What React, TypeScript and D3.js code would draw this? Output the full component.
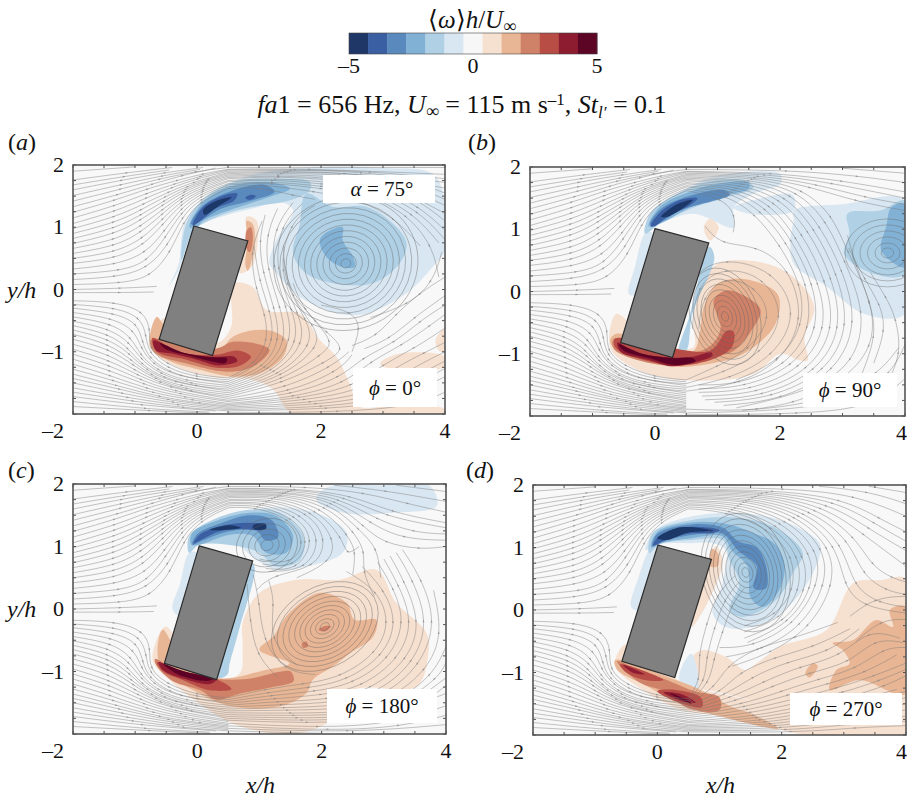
import React from "react";
import * as d3 from "d3";

type Blob = [number, number[]];
type Ring = { c: [number, number]; ratio: number; tilt: number; radii: number[] };

const barColors = ["#1f3767", "#3b5fa3", "#5a8abd", "#82b1d6", "#afd0e5", "#d9e7f2", "#f7f7f7", "#f6e0d0", "#e9b695", "#d08268", "#b84d46", "#8e1c30", "#5c0525"];
const barTicks = [-5, 0, 5];
const xTickVals = [-2, 0, 2, 4];
const yTickVals = [-1, 0, 1, 2];

const upstream: number[][] = [
  [-2,.08,-1.2,.1,-.75,.2,-.42,.6,-.22,1.1,.05,1.42,.5,1.62],
  [-2,.25,-1.2,.3,-.8,.45,-.5,.85,-.25,1.25,.05,1.5,.5,1.68],
  [-2,.42,-1.3,.5,-.85,.72,-.55,1.05,-.25,1.38,.08,1.58,.5,1.73],
  [-2,.58,-1.3,.7,-.9,.92,-.55,1.22,-.25,1.48,.1,1.64,.5,1.78],
  [-2,.74,-1.3,.9,-.9,1.12,-.55,1.36,-.2,1.58,.15,1.72,.5,1.82],
  [-2,.9,-1.3,1.08,-.9,1.28,-.5,1.5,-.15,1.66,.2,1.78,.5,1.86],
  [-2,1.06,-1.3,1.26,-.8,1.48,-.4,1.64,0,1.78,.5,1.9],
  [-2,1.24,-1.3,1.44,-.8,1.62,-.3,1.76,.1,1.86,.5,1.93],
  [-2,1.42,-1.2,1.62,-.6,1.78,0,1.9,.5,1.96],
  [-2,1.6,-1.2,1.76,-.5,1.88,.1,1.96],
  [-2,1.76,-1.1,1.88,-.4,1.96],
  [-2,1.9,-1,1.97],
  [-2,.16,-1.3,.2,-.8,.33,-.46,.72,-.24,1.18,.05,1.46,.5,1.65],
  [-2,.33,-1.3,.4,-.82,.58,-.52,.95,-.25,1.32,.06,1.54,.5,1.7],
  [-2,.5,-1.3,.6,-.87,.82,-.55,1.14,-.25,1.43,.09,1.61,.5,1.75],
  [-2,.66,-1.3,.8,-.9,1.02,-.55,1.29,-.22,1.53,.12,1.68,.5,1.8],
  [-2,.82,-1.3,.99,-.9,1.2,-.52,1.43,-.18,1.62,.17,1.75,.5,1.84],
  [-2,.98,-1.3,1.17,-.85,1.38,-.45,1.57,-.08,1.72,.5,1.88],
  [-2,1.15,-1.3,1.35,-.8,1.55,-.35,1.7,.05,1.82,.5,1.92],
  [-2,1.33,-1.25,1.53,-.7,1.7,-.25,1.83,.3,1.95],
  [-2,1.51,-1.2,1.69,-.55,1.83,.05,1.93],
  [-2,1.68,-1.15,1.82,-.45,1.92],
  [-2,-.05,-1.2,-.05,-.7,-.04],
  [-2,0,-1.2,.02,-.65,.05],
  [-2,-.18,-1.3,-.2,-.85,-.35,-.75,-.65,-.78,-.95,-.5,-1.2,0,-1.38,.5,-1.42],
  [-2,-.3,-1.3,-.38,-.95,-.55,-.88,-.85,-.78,-1.1,-.45,-1.33,0,-1.45,.5,-1.48],
  [-2,-.44,-1.35,-.55,-1.05,-.78,-.92,-1.05,-.65,-1.3,-.2,-1.47,.5,-1.54],
  [-2,-.58,-1.4,-.72,-1.1,-.95,-.9,-1.2,-.55,-1.42,0,-1.56,.5,-1.6],
  [-2,-.72,-1.4,-.88,-1.05,-1.14,-.75,-1.38,-.3,-1.55,.5,-1.66],
  [-2,-.88,-1.4,-1.05,-1,-1.3,-.6,-1.5,-.1,-1.64,.5,-1.72],
  [-2,-1.04,-1.4,-1.22,-.9,-1.46,-.4,-1.63,.5,-1.78],
  [-2,-1.2,-1.4,-1.38,-.8,-1.6,-.2,-1.73,.5,-1.83],
  [-2,-1.36,-1.3,-1.54,-.6,-1.73,.1,-1.83,.5,-1.87],
  [-2,-1.5,-1.2,-1.67,-.4,-1.82,.5,-1.91],
  [-2,-1.65,-1,-1.8,-.2,-1.9,.5,-1.95],
  [-2,-1.8,-.8,-1.92,.2,-1.97],
  [-2,-.24,-1.3,-.29,-.9,-.45,-.82,-.75,-.78,-1.02,-.48,-1.27,0,-1.41,.5,-1.45],
  [-2,-.37,-1.35,-.46,-1,-.66,-.9,-.95,-.72,-1.2,-.32,-1.4,.5,-1.51],
  [-2,-.51,-1.4,-.63,-1.08,-.86,-.91,-1.12,-.6,-1.36,-.1,-1.52,.5,-1.57],
  [-2,-.65,-1.4,-.8,-1.08,-1.04,-.82,-1.3,-.42,-1.49,.5,-1.63],
  [-2,-.8,-1.4,-.96,-1.02,-1.22,-.68,-1.44,-.2,-1.6,.5,-1.69],
  [-2,-.96,-1.4,-1.14,-.95,-1.38,-.5,-1.57,.5,-1.75],
  [-2,-1.12,-1.4,-1.3,-.85,-1.53,-.3,-1.68,.5,-1.8],
  [-2,-1.28,-1.35,-1.46,-.7,-1.67,-.05,-1.78,.5,-1.85],
  [-2,-1.43,-1.25,-1.6,-.5,-1.78,.5,-1.89],
  [-2,-1.58,-1.1,-1.74,-.3,-1.86,.5,-1.93],
  [-2,-1.72,-.9,-1.86,.3,-1.95],
  [-2,-1.88,-.7,-1.95,.2,-1.99],
];

const wakeA: number[][] = [
  [.5,1.62,1,1.65,1.6,1.5,1.9,1.45],
  [.5,1.68,1.2,1.72,2,1.62,2.8,1.52,3.4,1.2,3.8,.7,3.9,.2],
  [.5,1.73,1.2,1.77,2,1.7,2.9,1.6,3.6,1.25,4,.8],
  [.5,1.78,1.3,1.82,2.2,1.76,3,1.67,3.6,1.42,4,1.1],
  [.5,1.82,1.3,1.85,2.2,1.82,3.2,1.72,4,1.35],
  [.5,1.86,1.4,1.89,2.4,1.87,3.3,1.8,4,1.55],
  [.5,1.9,1.5,1.92,2.6,1.9,4,1.72],
  [.5,1.93,1.6,1.95,4,1.85],
  [.5,1.96,4,1.96],
  [.5,1.65,1.1,1.69,1.9,1.57,2.6,1.45,3.2,1.15,3.6,.7],
  [.5,1.7,1.2,1.74,2,1.66,2.85,1.56,3.5,1.22,3.9,.75],
  [.5,1.75,1.25,1.79,2.1,1.73,2.95,1.63,3.6,1.33,4,.95],
  [.5,1.8,1.3,1.83,2.2,1.79,3.1,1.7,4,1.22],
  [.5,1.84,1.35,1.87,2.3,1.85,3.25,1.76,4,1.45],
  [.5,1.88,1.45,1.9,2.5,1.88,4,1.63],
  [.5,1.92,1.55,1.93,2.8,1.9,4,1.78],
  [.5,-1.42,.95,-1.2,1.15,-.8,1.1,-.4,.95,0,.85,.6,1.05,1.1],
  [.5,-1.48,1.1,-1.25,1.35,-.8,1.25,-.3,1.05,.3,1,.8,1.1,1.2],
  [.5,-1.54,1.2,-1.3,1.55,-.8,1.45,-.3,1.2,.4,1.25,1,1.55,1.4],
  [.5,-1.6,1.3,-1.35,1.75,-.85,1.65,-.4,1.3,.3,1.5,1.1,1.9,1.35],
  [.5,-1.66,1.4,-1.4,2,-.9,1.9,-.6,1.5,-.1,1.4,.5],
  [.5,-1.72,1.4,-1.5,2.1,-1.15,2.4,-.95,2.1,-.7,1.7,-.3,1.55,.1],
  [.5,-1.78,1.5,-1.65,2.3,-1.3,2.5,-1.05],
  [.5,-1.83,1.6,-1.73,2.4,-1.5,2.8,-1.15,3.3,-.9,3.8,-.55,4,-.4],
  [.5,-1.87,1.8,-1.78,2.7,-1.6,3.2,-1.25,3.7,-1,4,-.85],
  [.5,-1.91,2,-1.85,3,-1.7,3.6,-1.35,4,-1.15],
  [.5,-1.95,2.2,-1.92,3.2,-1.8,4,-1.4],
  [.5,-1.98,2.4,-1.97,3.5,-1.87,4,-1.65],
  [.5,-1.45,1,-1.22,1.25,-.8,1.18,-.35,1,.15,.92,.7],
  [.5,-1.51,1.15,-1.28,1.45,-.8,1.35,-.3,1.12,.35,1.12,.9,1.3,1.3],
  [.5,-1.57,1.25,-1.33,1.65,-.82,1.55,-.35,1.25,.35,1.35,1.05,1.7,1.38],
  [.5,-1.63,1.35,-1.38,1.88,-.87,1.78,-.5,1.4,.1,1.4,.7],
  [.5,-1.69,1.4,-1.45,2.05,-1.02,2.2,-.85,1.9,-.5,1.6,-.15],
  [.5,-1.75,1.45,-1.58,2.2,-1.22,2.45,-1],
  [.5,-1.8,1.55,-1.69,2.35,-1.4,2.65,-1.1,3.2,-.85,3.6,-.5,4,-.25],
  [.5,-1.85,1.7,-1.75,2.55,-1.55,3,-1.2,3.5,-.95,4,-.62],
  [.5,-1.89,1.9,-1.82,2.85,-1.65,3.4,-1.3,4,-1],
  [.5,-1.93,2.1,-1.89,3.1,-1.75,3.8,-1.37,4,-1.27],
  [2.5,-.9,2.9,-.75,3.2,-.4,3.6,-.05,4,.2],
  [2.7,-.95,3.1,-.8,3.5,-.45,4,-.1],
  [2.5,-1,2.65,-.6,2.5,-.35,2,-.25],
  [3.95,.6,3.8,.1,3.4,-.25,2.8,-.45],
];
const wakeB: number[][] = [
  [.5,1.62,1.1,1.5,1.3,1.2,1.25,.95],
  [.5,1.68,1.2,1.6,1.7,1.3,2.1,.8,2.45,.1,2.5,-.6,2.1,-1.2,1.3,-1.5,.7,-1.5],
  [.5,1.73,1.3,1.66,1.85,1.4,2.25,.9,2.65,.1,2.75,-.6,2.35,-1.25,1.5,-1.6,.7,-1.62],
  [.5,1.78,1.4,1.72,2,1.5,2.45,1,2.85,.2,3,-.6,2.6,-1.3,1.7,-1.7,.8,-1.74],
  [.5,1.82,1.5,1.78,2.2,1.58,2.65,1.05,3,.35,3.25,-.5,2.9,-1.3,2,-1.75,1.1,-1.83],
  [.5,1.86,1.6,1.83,2.4,1.65,2.85,1.2,3.05,.7,3.5,-.2,3.5,-.9,3,-1.45,2.2,-1.82,1.4,-1.91],
  [.5,1.9,1.7,1.87,2.6,1.72,3.4,1.5,4,1.4],
  [.5,1.93,1.9,1.91,3,1.78,4,1.6],
  [.5,1.96,2.2,1.95,3.3,1.85,4,1.75],
  [3,1.98,4,1.9],
  [.5,1.65,1.15,1.55,1.6,1.25,2,.75,2.35,.1,2.38,-.55,2,-1.12,1.3,-1.42],
  [.5,1.7,1.25,1.63,1.78,1.35,2.18,.85,2.55,.1,2.62,-.6,2.22,-1.22,1.4,-1.55,.7,-1.56],
  [.5,1.75,1.35,1.69,1.92,1.45,2.35,.95,2.75,.15,2.88,-.6,2.48,-1.28,1.6,-1.65,.75,-1.68],
  [.5,1.8,1.45,1.75,2.1,1.54,2.55,1.02,2.92,.28,3.12,-.55,2.75,-1.3,1.85,-1.72,.95,-1.78],
  [.5,1.84,1.55,1.8,2.3,1.62,2.75,1.12,3.02,.52,3.38,-.35,3.2,-1.15,2.5,-1.6,1.3,-1.87],
  [.5,1.88,1.65,1.85,2.5,1.68,3.2,1.45,4,1.3],
  [.5,1.92,1.8,1.89,2.8,1.75,4,1.5],
  [.5,-1.42,1,-1.2,1.5,-.95,1.9,-.4,1.6,.1,1.1,.25,.75,-.1,.7,-.6],
  [.5,-1.48,1.1,-1.3,1.7,-1,2.1,-.4,1.75,.25,1.1,.4,.65,.1,.6,-.6],
  [.5,-1.54,1.2,-1.4,1.9,-1.05,2.3,-.35,1.9,.35,1.1,.55,.6,.3,.45,-.4],
  [.5,-1.6,1.3,-1.5,2,-1.15,2.4,-.45,2.15,.4,1.6,.75,1.05,.75,.8,1.05],
  [.5,-1.95,2,-1.92,3.2,-1.75,3.8,-1.3,4,-.85],
  [.5,-1.98,2.4,-1.97,3.5,-1.85,4,-1.4],
  [.5,-1.89,1.6,-1.93,2.9,-1.72,3.6,-1.3,3.9,-.9],
  [3.5,-1.15,3.7,-.6,3.6,-.2,3.35,.2,3.1,.7],
  [3.7,-1.5,3.95,-1,3.85,-.4,3.7,-.1,3.45,.3],
  [3.3,-1.35,3.55,-.7,3.45,-.2,3.2,.45,3.08,.9],
];
const wakeC: number[][] = [
  [.5,1.62,.9,1.64,1.5,1.45,1.75,1.05,1.5,.7,1,.8],
  [.5,1.68,1,1.7,1.6,1.5,1.9,1.1,1.6,.6,1.1,.65],
  [.5,1.73,1.1,1.75,1.8,1.55,2.1,1.1,1.9,.65,1.2,.55,.95,.3],
  [.5,1.78,1.2,1.8,1.95,1.6,2.35,1.1,2.4,.85,2.6,1],
  [.5,1.82,1.3,1.84,2.1,1.66,2.55,1.2,2.7,.9,2.65,.6,2.85,.2],
  [.5,1.86,1.4,1.87,2.2,1.73,2.7,1.3,3,1.05,3.6,.95,4,1],
  [.5,1.9,1.5,1.9,2.3,1.78,2.9,1.42,3.5,1.22,4,1.2],
  [.5,1.93,1.6,1.93,2.5,1.82,3.1,1.55,4,1.38],
  [.5,1.96,1.8,1.96,2.7,1.86,3.4,1.68,4,1.55],
  [2.2,1.98,3,1.9,4,1.72],
  [3.2,1.98,4,1.88],
  [.5,1.65,.95,1.67,1.55,1.47,1.82,1.07,1.55,.65,1.05,.72],
  [.5,1.7,1.05,1.72,1.7,1.52,2,1.1,1.75,.62,1.15,.6],
  [.5,1.75,1.15,1.77,1.88,1.57,2.22,1.1,2.15,.75,1.6,.5],
  [.5,1.8,1.25,1.82,2.02,1.63,2.45,1.15,2.55,.9,2.5,.55],
  [.5,1.84,1.35,1.85,2.15,1.7,2.62,1.25,2.9,.98,2.95,.5],
  [.5,1.88,1.45,1.88,2.25,1.75,2.8,1.36,3.3,1.12,4,1.1],
  [.5,1.92,1.55,1.92,2.4,1.8,3,1.48,4,1.3],
  [.5,-1.42,1.1,-1.28,1.7,-1.2,2.3,-1.1,2.9,-.7,3.1,-.2,2.9,.3,2.4,.6],
  [.5,-1.48,1.2,-1.38,1.9,-1.32,2.5,-1.2,3.1,-.8,3.35,-.2,3.15,.35,2.9,.75],
  [.5,-1.54,1.3,-1.48,2.1,-1.45,2.8,-1.3,3.4,-.8,3.6,-.2,3.3,.5,3.1,.85],
  [.5,-1.6,1.4,-1.58,2.3,-1.55,3,-1.4,3.6,-.9,3.85,-.2,3.6,.5,3.3,.95],
  [.5,-1.66,1.5,-1.67,2.5,-1.65,3.2,-1.5,3.8,-1.05,4,-.6],
  [.5,-1.72,1.6,-1.75,2.7,-1.72,3.4,-1.55,4,-1.1],
  [.5,-1.78,1.8,-1.83,2.9,-1.78,4,-1.35],
  [.5,-1.83,2,-1.9,3.1,-1.84,4,-1.55],
  [.5,-1.87,2.2,-1.95,3.3,-1.88,4,-1.7],
  [.5,-1.91,2.5,-1.98,4,-1.85],
  [.5,-1.95,2,-1.99],
  [.5,-1.45,1.15,-1.33,1.8,-1.26,2.4,-1.15,3,-.75,3.22,-.2,3,.32,2.65,.68],
  [.5,-1.51,1.25,-1.43,2,-1.38,2.65,-1.25,3.25,-.8,3.48,-.2,3.22,.42,3,.8],
  [.5,-1.57,1.35,-1.53,2.2,-1.5,2.9,-1.35,3.5,-.85,3.72,-.2,3.45,.5,3.2,.9],
  [.5,-1.63,1.45,-1.62,2.4,-1.6,3.1,-1.45,3.7,-.98,3.95,-.4,3.8,.3],
  [.5,-1.69,1.55,-1.71,2.6,-1.68,3.3,-1.52,3.9,-1.08,4,-.85],
  [.5,-1.75,1.7,-1.79,2.8,-1.75,3.6,-1.55,4,-1.22],
  [.9,.55,1,.1,1.05,-.5,1.4,-1,1.9,-1.05],
  [.8,.4,.85,-.2,.95,-.75,1.3,-1.1],
  [1.15,.45,1.25,.1,1.15,-.5,1.6,-.9],
];
const wakeD: number[][] = [
  [.5,1.62,1.1,1.58,1.8,1.3,2.2,.85,2.2,.3,1.9,-.1,1.4,-.25],
  [.5,1.68,1.2,1.64,1.95,1.38,2.4,.85,2.4,.3,2.05,-.2,1.4,-.45],
  [.5,1.73,1.3,1.7,2.1,1.45,2.6,.95,2.6,.4,2.2,-.25,1.5,-.6,1,-.6],
  [.5,1.78,1.4,1.76,2.25,1.52,2.8,1,2.85,.4,2.45,-.3,1.8,-.7,1.2,-.9],
  [.5,1.82,1.5,1.8,2.4,1.58,3,1.05,3.15,.35,3.6,.1,4,.05],
  [.5,1.86,1.6,1.85,2.6,1.63,3.2,1.15,3.45,.7,3.8,.5,4,.45],
  [.5,1.9,1.7,1.89,2.8,1.7,3.4,1.3,4,.95],
  [.5,1.93,1.9,1.92,3,1.78,3.6,1.45,4,1.25],
  [.5,1.96,2.1,1.95,3.2,1.84,4,1.5],
  [2.6,1.98,3.4,1.9,4,1.7],
  [3.4,1.98,4,1.88],
  [.5,1.65,1.15,1.61,1.88,1.34,2.3,.85,2.3,.3,1.98,-.15,1.4,-.35],
  [.5,1.7,1.25,1.67,2.02,1.42,2.5,.9,2.5,.35,2.12,-.22,1.45,-.52],
  [.5,1.75,1.35,1.73,2.18,1.48,2.7,.98,2.72,.4,2.32,-.28,1.65,-.65,1.1,-.75],
  [.5,1.8,1.45,1.78,2.32,1.55,2.9,1.02,3,.38,3.3,.05,4,-.05],
  [.5,1.84,1.55,1.83,2.5,1.6,3.1,1.1,3.3,.55,3.7,.3,4,.25],
  [.5,1.88,1.65,1.87,2.7,1.66,3.3,1.22,4,.7],
  [.5,1.92,1.8,1.9,2.9,1.74,3.5,1.38,4,1.1],
  [.5,-1.42,.7,-1.1,.65,-.75,.8,-.2,.95,.25,1.25,.55],
  [.5,-1.48,.85,-1.15,.9,-.8,1.05,-.35,1.2,.1,1.4,.35],
  [.5,-1.54,1.05,-1.3,1.3,-1,1.9,-.75,2.5,-.6,3.1,-.3],
  [.5,-1.6,1.2,-1.4,1.7,-1.15,2.3,-.9,2.95,-.75,3.4,-.3,3.9,-.45],
  [.5,-1.66,1.4,-1.5,2,-1.3,2.6,-1.1,3.2,-.95,3.65,-.6,4,-.6],
  [.5,-1.72,1.5,-1.6,2.2,-1.42,2.9,-1.25,3.5,-1.05,4,-.85],
  [.5,-1.78,1.6,-1.7,2.4,-1.52,3.1,-1.4,3.7,-1.2,4,-1.05],
  [.5,-1.83,1.7,-1.78,2.6,-1.6,3.3,-1.5,4,-1.3],
  [.5,-1.87,1.9,-1.84,2.8,-1.68,3.5,-1.6,4,-1.5],
  [.5,-1.91,2.1,-1.9,3,-1.76,4,-1.7],
  [.5,-1.95,2.3,-1.96,3.2,-1.88,4,-1.85],
  [.5,-1.45,.78,-1.12,.78,-.78,.92,-.28,1.08,.18,1.32,.45],
  [.5,-1.51,.95,-1.22,1.1,-.9,1.6,-.6,2.2,-.45,2.9,-.2],
  [.5,-1.57,1.12,-1.35,1.5,-1.08,2.1,-.82,2.75,-.68,3.25,-.3],
  [.5,-1.63,1.3,-1.45,1.85,-1.22,2.45,-1,3.1,-.85,3.5,-.45,3.95,-.52],
  [.5,-1.69,1.45,-1.55,2.1,-1.36,2.75,-1.18,3.35,-1,3.85,-.72],
  [.5,-1.75,1.55,-1.65,2.3,-1.47,3,-1.32,3.6,-1.12,4,-.95],
  [.5,-1.8,1.65,-1.74,2.5,-1.56,3.2,-1.45,3.85,-1.27],
  [.5,-1.85,1.8,-1.81,2.7,-1.64,3.4,-1.55,4,-1.4],
  [.5,-1.89,2,-1.87,2.9,-1.72,4,-1.6],
  [.5,-1.93,2.2,-1.93,3.1,-1.82,4,-1.78],
  [3.1,-.1,3.5,.2,4,.22],
  [3.2,-.5,3.6,-.15,4,-.15],
];

const ringsA: Ring[] = [{ c: [2.4, .42], ratio: .92, tilt: -15, radii: [.08,.17,.27,.37,.47,.57,.67,.77,.87,.97,1.07,1.17] }];
const ringsB: Ring[] = [
  { c: [1.12, -.4], ratio: .68, tilt: 70, radii: [.08,.17,.26,.35,.44,.53,.62,.71,.8] },
  { c: [3.72, .62], ratio: .8, tilt: 0, radii: [.1,.2,.32,.44,.56,.68] },
];
const ringsC: Ring[] = [
  { c: [1.12, 1.02], ratio: .85, tilt: -20, radii: [.1,.2,.3,.4,.5] },
  { c: [2.05, -.28], ratio: .7, tilt: -30, radii: [.08,.16,.25,.34,.43,.52,.62,.72,.82,.92] },
];
const ringsD: Ring[] = [{ c: [1.42, .6], ratio: .72, tilt: 75, radii: [.08,.16,.25,.34,.43,.52,.61,.7,.79,.88,.97] }];

const blobsA: Blob[] = [
  [-1,[1.12,1.89,2,1.97,3,1.95,3.8,1.86,4,1.4,4,.63,3.8,.36,3.38,-.06,2.73,-.39,2.3,-.39,1.66,-.12,1.28,.26,1.17,.42,1.28,.79,1.55,1.27,1.35,1.4,.9,1.3,.5,1.2,.1,1.06,-.06,.95,-.3,.3,-.45,.05,-.3,.4,-.2,1.06,.15,1.5,.69,1.78]],
  [1,[.58,.1,.9,.04,1.12,-.33,1.66,-.39,1.98,-.81,2.25,-1.08,2.46,-1.51,2.62,-1.88,3.2,-1.85,4,-1.92,4,-2,1.55,-2,1.23,-1.61,.9,-1.45,.26,-1.4,-.3,-1.25,-.71,-.97,-.65,-.55,-.45,-.45,0,-.8,.35,-.85,.55,-.6,.55,-.1]],
  [1,[4,-.63,3.85,-.8,3.9,-.98,4,-1]],
  [1,[2.95,-1.19,3.27,-1.03,4,-1.08,4,-1.24,3.1,-1.27]],
  [1,[.8,1.17,.96,1.11,.98,.79,.88,.36,.69,.26,.8,.79]],
  [2,[.15,-1.27,.58,-.76,1.12,-.65,1.44,-.81,1.39,-1.08,1.01,-1.35,.58,-1.4,.04,-1.29,-.49,-1.13,-.76,-.92,-.65,-.44,-.55,-.55]],
  [2,[.8,1.1,.9,1.05,.93,.75,.82,.3,.78,.4,.82,.8]],
  [3,[.3,-.95,.58,-.84,.96,-.87,1.17,-.97,.9,-1.24,.47,-1.32,-.17,-1.19,-.66,-1.03,-.74,-.81]],
  [3,[.8,.95,.87,1,.9,.8,.85,.6,.8,.65]],
  [4,[-.72,-.78,-.3,-1,.3,-1.05,.65,-.98,.87,-1.08,.7,-1.22,.35,-1.26,-.2,-1.12,-.65,-1]],
  [5,[-.7,-.82,-.3,-1,.25,-1.08,.6,-1.08,.65,-1.15,.35,-1.22,0,-1.13,-.4,-1.03,-.66,-.98]],
  [6,[-.6,-.86,-.2,-1.02,.25,-1.09,.48,-1.1,.46,-1.18,.2,-1.15,-.1,-1.07,-.5,-.96]],
  [-2,[1.76,1.54,2.19,1.33,2.73,1.33,3.16,1.06,3.38,.74,3.27,.42,2.84,.1,2.19,.1,1.76,.26,1.55,.58,1.66,1.06]],
  [-3,[1.98,.79,2.11,.93,2.35,1,2.35,.79,2.52,.52,2.54,.36,2.35,.36,2.09,.52]],
  [-2,[-.25,.47,-.17,1.06,.15,1.49,.69,1.75,1.28,1.78,1.82,1.73,1.82,1.59,1.49,1.43,.9,1.33,.47,1.22,.1,1.06,-.06,.95]],
  [-3,[-.12,1,.1,1.4,.55,1.66,1.2,1.72,1.5,1.62,1.2,1.5,.6,1.3,.1,1.1,0,1]],
  [-4,[-.1,1.05,.1,1.35,.6,1.6,1.1,1.68,1.25,1.57,.85,1.42,.4,1.3,.05,1.1]],
  [-5,[-.07,1.03,.1,1.33,.45,1.52,.65,1.54,.6,1.43,.3,1.3,.03,1.08]],
  [-6,[.1,1.28,.35,1.44,.56,1.48,.35,1.34,.12,1.2]],
  [-5,[.85,1.52,.95,1.5,.85,1.44,.78,1.47]],
];
const blobsB: Blob[] = [
  [-1,[.83,1.81,2,1.89,2.01,1.73,1.58,1.57,1.26,1.35,1.26,1.03,.62,1.25,.08,1.09,-.1,1,.2,1.4]],
  [-1,[2.22,1.3,3,1.4,4,1.46,4,-.36,3.35,-.36,2.76,.07,2.22,.44,2.17,.87,2.22,1.14]],
  [-1,[1.26,1.35,1.7,1.5,2.2,1.55,2.22,1.3,1.5,1.25]],
  [-1,[-.16,.93,-.32,.4,-.42,-.04,-.3,-.05,-.05,.95]],
  [-2,[3.08,1.25,3.6,1.3,4,1.46,4,.28,3.51,.28,3.03,.6,3.11,.93]],
  [-3,[3.78,1.35,4,1.4,4,.39,3.62,.66,3.7,1.05]],
  [-2,[.87,.72,.95,.55,.6,-.35,.5,-.95,.38,-.98,.55,-.4]],
  [1,[.99,.44,1.69,.47,2.22,.23,2.55,-.25,2.39,-.73,2.44,-1.11,2.3,-1.1,2.01,-1,1.58,-1.32,.88,-1.43,.08,-1.37,-.46,-1.16,-.72,-.89,-.62,-.36,-.3,-.6,.3,-.9,.62,-.89,.62,-.52,.72,.02]],
  [1,[.78,1.03,.88,1.17,1.02,1.03,.88,.82]],
  [2,[.78,-.25,.99,.12,1.42,.2,1.96,-.04,1.93,-.52,1.42,-1,.88,-1.16,.35,-1.21,-.24,-1.11,-.62,-.95,-.72,-.79,-.62,-.68,.29,-.95,.62,-.95,.72,-.63]],
  [3,[.94,-.14,1.15,.02,1.47,-.09,1.69,-.3,1.58,-.57,1.26,-.95,.94,-1.05,.35,-1.19,-.35,-1.08,-.66,-.92,-.66,-.76,.3,-1,.85,-.9,1.05,-.6]],
  [4,[.88,-.95,1.15,-.63,1.26,-.65,1.23,-.89,.94,-1.08,.35,-1.19,-.35,-1.05,-.64,-.89,-.64,-.76]],
  [5,[-.6,-.82,-.3,-.98,.28,-1.06,.6,-1.05,.9,-.98,.92,-1.03,.6,-1.15,.25,-1.2,-.1,-1.1,-.55,-.97]],
  [6,[-.58,-.85,-.2,-1,.28,-1.07,.6,-1.07,.65,-1.12,.3,-1.18,-.1,-1.07,-.5,-.95]],
  [-2,[-.16,.93,-.08,1.25,.35,1.57,.94,1.78,1.47,1.78,1.58,1.67,1.15,1.51,.62,1.35,.08,1.09]],
  [-3,[-.1,1.05,.1,1.38,.55,1.6,.95,1.72,1.5,1.75,1.5,1.65,1.15,1.55,.6,1.37,.1,1.1]],
  [-4,[-.08,1.08,.1,1.33,.6,1.55,1.1,1.63,1.2,1.56,.8,1.42,.4,1.3,.1,1.12]],
  [-5,[-.07,1.05,.08,1.27,.4,1.47,.68,1.5,.55,1.38,.2,1.2,0,1.05]],
  [-6,[.1,1.2,.35,1.4,.6,1.47,.45,1.34,.2,1.2]],
];
const blobsC: Blob[] = [
  [-1,[1.91,1.75,2.08,1.94,3,1.98,3.74,1.97,3.85,1.65,3.15,1.54,2.34,1.54]],
  [-1,[.57,1.49,1.11,1.62,1.91,1.54,2.4,1.22,2.34,.9,1.75,.68,1.27,.63,.95,.79,.57,1.06,.03,1.06,-.1,1.1,.1,1.35]],
  [-1,[-.13,.9,-.28,.4,-.4,0,-.3,-.1,0,.9]],
  [-2,[.84,.75,.92,.68,.68,-.3,.52,-.87,.48,-1.05,.33,-1.1,.5,-.4]],
  [-2,[-.13,.9,-.13,1.17,.25,1.43,.84,1.59,1.32,1.54,1.7,1.17,1.65,.79,1.27,.68,1,.9,.68,1,.03,1.03]],
  [-3,[-.1,1.03,-.08,1.22,.3,1.41,.84,1.54,1.27,1.49,1.54,1.17,1.43,.9,1.11,.9,.89,1.17,.52,1.19,.03,1.03]],
  [-4,[-.08,1.03,0,1.2,.4,1.38,.85,1.5,1.2,1.42,1.3,1.15,1.1,1.1,.95,1.25,.5,1.24,.1,1.1]],
  [-5,[-.06,1.05,.05,1.2,.4,1.33,.8,1.38,1.1,1.34,1,1.27,.7,1.28,.35,1.24,.05,1.1]],
  [-6,[.9,1.34,1.1,1.36,1.1,1.28,.9,1.28]],
  [-6,[.2,1.27,.5,1.34,.7,1.3,.35,1.26]],
  [1,[.73,-.22,1,.26,1.59,.47,2.29,.47,2.88,.63,3.2,.1,3.69,-.39,3.71,-.76,3.53,-1.24,2.5,-1.3,2.08,-1.83,1.38,-2,.57,-1.83,.03,-1.51,-.51,-1.08,-.72,-.81,-.51,-.28,-.2,-.7,.3,-1.13,.68,-1.03,.73,-.6]],
  [2,[1.22,-.44,1.48,-.06,1.97,.26,2.4,.1,2.53,-.17,2.88,-.17,2.83,-.44,2.45,-.71,2.18,-.92,1.86,-1.13,1.75,-1.35,1.32,-1.56,.57,-1.56,.03,-1.35,-.61,-.87,-.56,-.33,-.3,-.7,.3,-1.1,1.11,-.97,1.48,-.87,1,-.65]],
  [3,[-.68,-.8,-.3,-1,.3,-1.12,.8,-1.12,1.35,-1,1.5,-1,1.55,-1.15,1.2,-1.25,.7,-1.35,.3,-1.45,.05,-1.3,-.4,-1.15,-.66,-.9]],
  [3,[1.95,-.33,2.05,-.27,2.15,-.28,2.05,-.36]],
  [3,[1.68,-.55,1.75,-.52,1.78,-.6,1.7,-.62]],
  [4,[-.65,-.85,-.3,-1,.3,-1.12,.55,-1.28,.2,-1.3,-.2,-1.15,-.55,-1]],
  [5,[-.62,-.85,-.3,-.98,.3,-1.13,.2,-1.2,-.2,-1.12,-.55,-.98]],
  [6,[-.55,-.88,-.2,-1,.25,-1.12,.15,-1.15,-.3,-1.05]],
];
const blobsD: Blob[] = [
  [1,[1.96,-.59,2.72,-.32,3.15,.43,3.6,.48,4,.5,4,-2,3.3,-2,1.96,-1.9,1.6,-1.5,1,-1.32,.46,-1.18,.56,-.75,.73,-.64,1.1,-.75,1.42,-.96,1.59,-.86]],
  [1,[.94,1.02,1.05,.8,.83,.16,.56,-.27,.65,.1,.85,.8]],
  [1,[-.68,-.8,-.52,-.55,-.4,-.7,.3,-1.1,.5,-1.25,.8,-1.3,1.5,-1.45,2,-1.65,2.2,-1.75,2,-1.9,1.1,-1.7,.4,-1.6,-.2,-1.3,-.65,-.95]],
  [-1,[-.19,.96,-.03,1.28,.56,1.5,1.37,1.55,2.12,1.39,2.61,1.07,2.61,.86,2.34,.32,1.91,-.11,1.53,-.27,1.1,-.27,.89,-.05,1.05,.43,1.1,.96,.89,1.07,.56,1.07,.03,1.05]],
  [-1,[-.1,1,-.3,.53,-.42,.05,-.28,0,0,1]],
  [-1,[.35,-1.1,.45,-.8,.55,-.7,.65,-1.25,.45,-1.25]],
  [2,[2.82,-.53,3.15,-.48,3.52,-.16,3.79,-.27,3.74,0,4,.05,4,-1.34,3.25,-1.12,2.77,-1.28,2.88,-.96,3.09,-.86,2.98,-.64]],
  [2,[2.38,-1.02,2.5,-.85,2.58,-.9,2.45,-1.08]],
  [2,[-.68,-.8,.3,-1.12,.7,-1.28,1.2,-1.55,1.5,-1.65,1.95,-1.9,1.2,-1.75,.4,-1.52,-.2,-1.2,-.65,-.95]],
  [2,[.88,.98,.98,.9,.97,.7,.85,.7]],
  [3,[-.65,-.82,-.2,-1,.1,-1.1,.6,-1.3,1,-1.4,1,-1.6,.5,-1.57,.1,-1.3,-.3,-1.15]],
  [4,[-.6,-.87,-.15,-1,.1,-1.12,-.2,-1.12,-.5,-1]],
  [4,[0,-1.3,.3,-1.28,.7,-1.4,.72,-1.55,.4,-1.5]],
  [5,[.1,-1.32,.4,-1.35,.62,-1.48,.4,-1.46]],
  [5,[-.55,-.88,-.2,-1.03,-.4,-1]],
  [6,[.2,-1.33,.5,-1.45,.55,-1.5,.4,-1.44]],
  [-2,[-.13,.91,-.08,1.23,.56,1.44,1.37,1.47,1.96,1.28,2.34,.91,2.18,.59,1.91,.16,1.37,-.11,1.16,0,1.32,.43,1.16,.8,1.05,1.12,.56,1.12,.03,1.05]],
  [-3,[-.1,1,0,1.25,.55,1.4,1.1,1.38,1.5,1.25,1.9,1.05,2.05,.7,1.95,.3,1.7,.05,1.5,.2,1.45,.7,1.2,.95,1.05,1.18,.55,1.15,.1,1.08]],
  [-4,[-.08,1.02,0,1.22,.55,1.37,1.05,1.32,1.3,1.1,1.6,1,1.75,.7,1.75,.35,1.55,.35,1.6,.7,1.3,.95,1.05,1.22,.55,1.2,.1,1.1]],
  [-5,[-.07,1.03,.05,1.2,.5,1.33,1,1.28,.9,1.23,.5,1.22,.1,1.1]],
  [-6,[0,1.15,.3,1.31,.7,1.31,.9,1.27,.5,1.24,.15,1.12]],
];

const bodyA = [-.05,1.02,.82,.78,.25,-1.06,-.61,-.8];
const bodyB = [0,1.01,.86,.78,.28,-1.06,-.55,-.82];
const bodyC = [.03,1.01,.89,.77,.31,-1.13,-.53,-.87];
const bodyD = [.01,1.04,.87,.81,.28,-1.08,-.57,-.82];

const panels = [
  { tag: "a", l: 73, r: 445, t: 165, b: 414, blobs: blobsA, wake: wakeA, rings: ringsA, body: bodyA, phi: "0°", box: [353, 368, 84, 39], labelX: 8, labelY: 150, yLab: true, xLab: false, alpha: true },
  { tag: "b", l: 530, r: 905, t: 167, b: 416, blobs: blobsB, wake: wakeB, rings: ringsB, body: bodyB, phi: "90°", box: [803, 373, 94, 34], labelX: 468, labelY: 150, yLab: false, xLab: false, alpha: false },
  { tag: "c", l: 73, r: 446, t: 484, b: 734, blobs: blobsC, wake: wakeC, rings: ringsC, body: bodyC, phi: "180°", box: [327, 689, 110, 34], labelX: 8, labelY: 478, yLab: true, xLab: true, alpha: false },
  { tag: "d", l: 533, r: 906, t: 485, b: 735, blobs: blobsD, wake: wakeD, rings: ringsD, body: bodyD, phi: "270°", box: [790, 693, 112, 32], labelX: 466, labelY: 478, yLab: false, xLab: true, alpha: false },
];

const FONT = "'Liberation Serif', serif";
const pairs = (a: number[]): [number, number][] => d3.range(0, a.length, 2).map((i) => [a[i], a[i + 1]]);

function Panel({ p }: { p: (typeof panels)[number] }) {
  const x = d3.scaleLinear().domain([-2, 4]).range([p.l, p.r]);
  const y = d3.scaleLinear().domain([-2, 2]).range([p.b, p.t]);
  const closed = d3.line<[number, number]>().x((d) => x(d[0])).y((d) => y(d[1])).curve(d3.curveCatmullRomClosed.alpha(0.5));
  const open = d3.line<[number, number]>().x((d) => x(d[0])).y((d) => y(d[1])).curve(d3.curveBasis);
  const order = [...p.blobs].map((b, i) => ({ b, i })).sort((a, c) => Math.abs(a.b[0]) - Math.abs(c.b[0]) || a.i - c.i);
  const lines = [...upstream, ...p.wake];
  const xMinor = d3.range(-2, 4.01, 0.5);
  const yMinor = d3.range(-2, 2.01, 0.25);
  const clip = `clip-${p.tag}`;
  return (
    <g fontFamily={FONT} fill="#111">
      <defs><clipPath id={clip}><rect x={p.l} y={p.t} width={p.r - p.l} height={p.b - p.t} /></clipPath></defs>
      <g clipPath={`url(#${clip})`} filter="url(#soft)">
        <rect x={p.l} y={p.t} width={p.r - p.l} height={p.b - p.t} fill="#f8f8f8" />
        {order.map(({ b, i }) => (
          <path key={i} d={closed(pairs(b[1])) ?? ""} fill={barColors[b[0] + 6]} />
        ))}
        {lines.map((l, i) => (
          <path key={i} d={open(pairs(l)) ?? ""} fill="none" stroke="#777" strokeOpacity={0.55} strokeWidth={0.8} />
        ))}
        {p.rings.flatMap((r, ri) =>
          r.radii.map((rad, i) => (
            <ellipse key={`${ri}-${i}`} cx={x(r.c[0])} cy={y(r.c[1])} rx={x(rad) - x(0)} ry={(x(rad) - x(0)) * r.ratio}
              transform={`rotate(${r.tilt} ${x(r.c[0])} ${y(r.c[1])})`} fill="none" stroke="#666" strokeOpacity={0.5} strokeWidth={0.8} />
          ))
        )}
        {lines.flatMap((l, i) => {
          const pts = pairs(l);
          return pts.slice(1, -1).map((q, j) => {
            const a0 = pts[j];
            const n = pts[j + 2];
            const qx = (a0[0] + 4 * q[0] + n[0]) / 6;
            const qy = (a0[1] + 4 * q[1] + n[1]) / 6;
            const a = (Math.atan2(y(n[1]) - y(a0[1]), x(n[0]) - x(a0[0])) * 180) / Math.PI;
            return <path key={`${i}-${j}`} d="M-1.3,-1L1.4,0L-1.3,1Z" fill="#888" fillOpacity={0.7} transform={`translate(${x(qx)},${y(qy)}) rotate(${a})`} />;
          });
        })}
        <path d={(d3.line().curve(d3.curveLinearClosed)(pairs(p.body).map((q) => [x(q[0]), y(q[1])] as [number, number])) ?? "")} fill="#808080" stroke="#2b2b2b" strokeWidth={1.2} />
      </g>
      <rect x={p.box[0]} y={p.box[1]} width={p.box[2]} height={p.box[3]} fill="#fff" />
      <text x={p.box[0] + p.box[2] / 2} y={p.box[1] + p.box[3] / 2 + 7} fontSize={21} textAnchor="middle"><tspan fontStyle="italic">ϕ</tspan> = {p.phi}</text>
      {p.alpha && (
        <g>
          <rect x={323} y={175} width={112} height={28} fill="#fff" />
          <text x={382} y={196} fontSize={21} textAnchor="middle"><tspan fontStyle="italic">α</tspan> = 75°</text>
        </g>
      )}
      <rect x={p.l} y={p.t} width={p.r - p.l} height={p.b - p.t} fill="none" stroke="#555" strokeWidth={1.6} />
      {xMinor.map((v) => (
        <g key={v}>
          <line x1={x(v)} x2={x(v)} y1={p.b} y2={p.b - 3} stroke="#555" />
          <line x1={x(v)} x2={x(v)} y1={p.t} y2={p.t + 3} stroke="#555" />
        </g>
      ))}
      {yMinor.map((v) => (
        <g key={v}>
          <line x1={p.l} x2={p.l + 3} y1={y(v)} y2={y(v)} stroke="#555" />
          <line x1={p.r} x2={p.r - 3} y1={y(v)} y2={y(v)} stroke="#555" />
        </g>
      ))}
      {xTickVals.map((v) => {
        const nearEdge = x(v) > 900;
        return (
          <text key={v} x={v === -2 ? x(v) - 20 : nearEdge ? 907 : x(v)} y={p.b + 24} fontSize={22} textAnchor={nearEdge ? "end" : "middle"}>{v < 0 ? `–${-v}` : v}</text>
        );
      })}
      {yTickVals.map((v) => (
        <text key={v} x={p.l - 9} y={y(v) + 7} fontSize={22} textAnchor="end">{v < 0 ? `–${-v}` : v}</text>
      ))}
      <text x={p.labelX} y={p.labelY} fontSize={24}>(<tspan fontStyle="italic">{p.tag}</tspan>)</text>
      {p.yLab && <text x={7} y={y(0) + 8} fontSize={24} fontStyle="italic">y/h</text>}
      {p.xLab && <text x={x(0) + 63} y={793} fontSize={24} fontStyle="italic" textAnchor="middle">x/h</text>}
    </g>
  );
}

export default function App() {
  const barX = d3.scaleLinear().domain([-5, 5]).range([349, 597]);
  const bw = (597 - 349) / barColors.length;
  return (
    <svg width={908} height={798} style={{ position: "absolute", left: 0, top: 0, background: "#fff" }}>
      <defs>
        <filter id="soft" x="0" y="0" width="100%" height="100%"><feGaussianBlur stdDeviation={0.55} /></filter>
      </defs>
      <g fontFamily={FONT} fill="#111">
        <text x={472} y={28} fontSize={25} textAnchor="middle">
          ⟨<tspan fontStyle="italic">ω</tspan>⟩<tspan fontStyle="italic">h</tspan>/<tspan fontStyle="italic">U</tspan><tspan fontSize={18} dy={4}>∞</tspan>
        </text>
        {barColors.map((c, i) => (
          <rect key={c} x={349 + i * bw} y={33} width={bw + 0.4} height={21} fill={c} />
        ))}
        <rect x={349} y={33} width={248} height={21} fill="none" stroke="#444" strokeWidth={0.6} />
        {barTicks.map((v) => (
          <text key={v} x={barX(v)} y={73} fontSize={22} textAnchor="middle">{v < 0 ? `–${-v}` : v}</text>
        ))}
        <text x={462} y={113} fontSize={26} textAnchor="middle">
          <tspan fontStyle="italic">fa</tspan>1 = 656 Hz, <tspan fontStyle="italic">U</tspan><tspan fontSize={18} dy={4}>∞</tspan><tspan dy={-4}> = 115 m s</tspan><tspan fontSize={17} dy={-8}>–1</tspan><tspan dy={8}>, </tspan><tspan fontStyle="italic">St</tspan><tspan fontSize={17} dy={5} fontStyle="italic">l′</tspan><tspan dy={-5}> = 0.1</tspan>
        </text>
      </g>
      {panels.map((p) => <Panel key={p.tag} p={p} />)}
    </svg>
  );
}
